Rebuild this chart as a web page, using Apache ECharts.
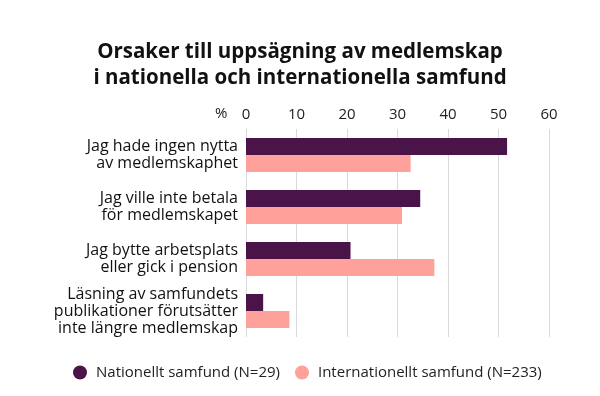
<!DOCTYPE html>
<html>
<head>
<meta charset="utf-8">
<script src="https://cdn.jsdelivr.net/npm/echarts@6/dist/echarts.min.js"></script>
<style>
  html, body { margin: 0; padding: 0; background: #fff; }
  #chart { width: 600px; height: 396px; }
</style>
</head>
<body>
<div id="chart"></div>
<script>
const categories = [
  'Jag hade ingen nytta\nav medlemskaphet',
  'Jag ville inte betala\nför medlemskapet',
  'Jag bytte arbetsplats\neller gick i pension',
  'Läsning av samfundets\npublikationer förutsätter\ninte längre medlemskap'
]
const nationellt = [51.7, 34.5, 20.7, 3.4]
const internationellt = [32.6, 30.9, 37.3, 8.6]
const seriesNames = ['Nationellt samfund (N=29)', 'Internationellt samfund (N=233)']
const xTicks = [0, 10, 20, 30, 40, 50, 60]

const font = '"Open Sans", sans-serif'
const chart = echarts.init(document.getElementById('chart'))

const option = {
  backgroundColor: '#fff',
  title: {
    text: 'Orsaker till uppsägning av medlemskap\ni nationella och internationella samfund',
    left: 'center',
    top: 34,
    textStyle: { fontFamily: font, fontSize: 20.5, fontWeight: 'bold', color: '#111', lineHeight: 26 }
  },
  graphic: [{
    type: 'text',
    left: 215,
    top: 106,
    style: { text: '%', font: '15px ' + font, fill: '#222' }
  }],
  legend: {
    bottom: 11,
    left: 68,
    icon: 'circle',
    itemWidth: 14,
    itemHeight: 14,
    itemGap: 15,
    textStyle: { fontFamily: font, fontSize: 15, color: '#222', padding: [0, 0, 0, 4] },
    data: seriesNames
  },
  grid: { left: 246, right: 51, top: 129, height: 208 },
  xAxis: {
    type: 'value',
    position: 'top',
    min: xTicks[0],
    max: xTicks[xTicks.length - 1],
    interval: 10,
    axisLine: { show: false },
    axisTick: { show: false },
    axisLabel: { fontFamily: font, fontSize: 15, color: '#222', margin: 7 },
    splitLine: { lineStyle: { color: '#d9d9d9', width: 1 } }
  },
  yAxis: {
    type: 'category',
    inverse: true,
    data: categories,
    axisLine: { show: false },
    axisTick: { show: false },
    axisLabel: { fontFamily: font, fontSize: 16, color: '#111', lineHeight: 17, margin: 8, align: 'right' }
  },
  series: [{
    name: seriesNames[0],
    type: 'bar',
    data: nationellt,
    barWidth: 17,
    barGap: '0%',
    itemStyle: { color: '#4a1449' }
  }, {
    name: seriesNames[1],
    type: 'bar',
    data: internationellt,
    barWidth: 17,
    itemStyle: { color: '#ffa19b' }
  }]
}
chart.setOption(option)
</script>
</body>
</html>
